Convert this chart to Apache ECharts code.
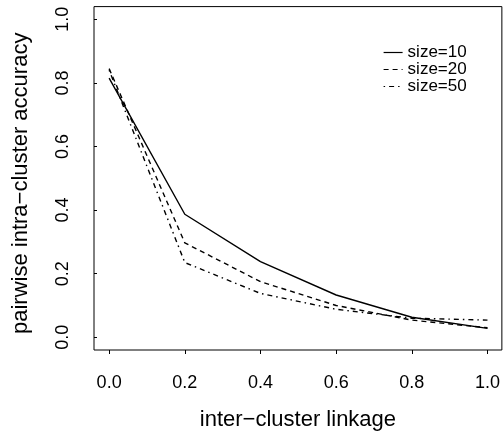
<!DOCTYPE html>
<html>
<head>
<meta charset="utf-8">
<script src="https://cdn.jsdelivr.net/npm/echarts@6/dist/echarts.min.js"></script>
<style>
  html, body { margin: 0; padding: 0; background: #fff; }
  #chart { width: 503px; height: 436px; }
</style>
</head>
<body>
<div id="chart"></div>
<script>
// ---- data ----
const linkage = [0.0, 0.2, 0.4, 0.6, 0.8, 1.0];
const size10 = [0.815, 0.387, 0.238, 0.133, 0.063, 0.028];
const size20 = [0.845, 0.297, 0.175, 0.100, 0.054, 0.030];
const size50 = [0.840, 0.235, 0.138, 0.088, 0.060, 0.054];
const seriesNames = ['size=10', 'size=20', 'size=50'];
const xTicks = [0.0, 0.2, 0.4, 0.6, 0.8, 1.0];
const yTicks = [0.0, 0.2, 0.4, 0.6, 0.8, 1.0];
const xTitle = 'inter\u2212cluster linkage';
const yTitle = 'pairwise intra\u2212cluster accuracy';

const FONT = '"Liberation Sans", Arial, Helvetica, sans-serif';
const pairs = (xs, ys) => xs.map((x, i) => [x, ys[i]]);

const chart = echarts.init(document.getElementById('chart'), null, { renderer: 'canvas' });
const lineBase = { color: '#000', width: 1.4 };

chart.setOption({
  animation: false,
  backgroundColor: '#fff',
  textStyle: { fontFamily: FONT, color: '#000' },
  grid: {
    left: 94, right: 0.5, top: 6.6, bottom: 86,
    show: true, borderColor: '#000', borderWidth: 1, backgroundColor: 'transparent'
  },
  legend: {
    orient: 'vertical',
    left: 378, top: 39,
    itemGap: 0,
    itemWidth: 19, itemHeight: 17,
    itemStyle: { opacity: 0 },
    lineStyle: { width: 1.2 },
    textStyle: { fontFamily: FONT, fontSize: 17, color: '#000', lineHeight: 17 },
    data: seriesNames
  },
  xAxis: {
    type: 'value',
    min: -0.04, max: 1.038,
    name: xTitle,
    nameLocation: 'middle',
    nameGap: 59,
    nameTextStyle: { fontFamily: FONT, fontSize: 22, color: '#000' },
    axisLine: { show: false, onZero: false },
    axisTick: { show: true, customValues: xTicks, length: 4, lineStyle: { color: '#000' } },
    axisLabel: {
      customValues: xTicks, margin: 24, fontSize: 18, color: '#000', fontFamily: FONT,
      formatter: v => v.toFixed(1)
    },
    splitLine: { show: false }
  },
  yAxis: {
    type: 'value',
    min: -0.04, max: 1.04,
    name: yTitle,
    nameLocation: 'middle',
    nameGap: 62,
    nameRotate: 90,
    nameTextStyle: { fontFamily: FONT, fontSize: 22, color: '#000', padding: [0, 10, 0, 0] },
    axisLine: { show: false, onZero: false },
    axisTick: { show: true, inside: true, customValues: yTicks, length: 3, lineStyle: { color: '#000' } },
    axisLabel: {
      customValues: yTicks, rotate: 90, margin: 22, fontSize: 18, color: '#000', fontFamily: FONT,
      formatter: v => v.toFixed(1)
    },
    splitLine: { show: false }
  },
  series: [
    {
      name: seriesNames[0], type: 'line', data: pairs(linkage, size10),
      symbol: 'none', lineStyle: Object.assign({}, lineBase, { type: 'solid' }),
      itemStyle: { color: '#000' }
    },
    {
      name: seriesNames[1], type: 'line', data: pairs(linkage, size20),
      symbol: 'none', lineStyle: Object.assign({}, lineBase, { type: [5, 4] }),
      itemStyle: { color: '#000' }
    },
    {
      name: seriesNames[2], type: 'line', data: pairs(linkage, size50),
      symbol: 'none', lineStyle: Object.assign({}, lineBase, { type: [1.5, 4, 5, 4] }),
      itemStyle: { color: '#000' }
    }
  ]
});
</script>
</body>
</html>
